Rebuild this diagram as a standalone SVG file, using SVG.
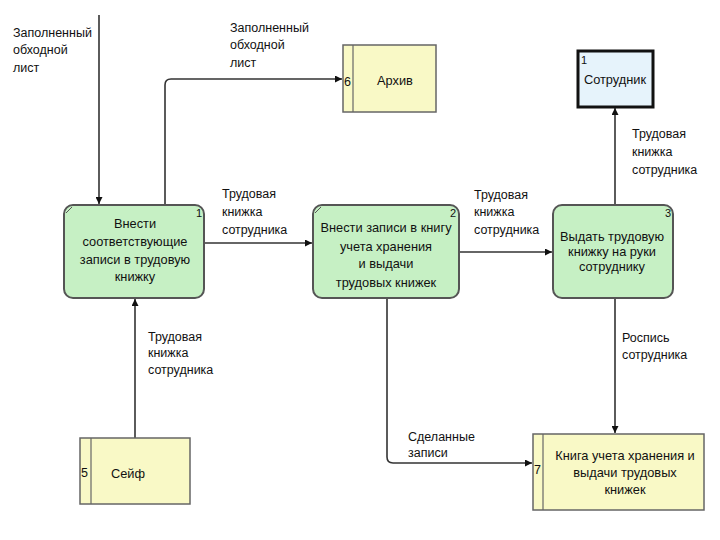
<svg xmlns="http://www.w3.org/2000/svg" width="720" height="540" viewBox="0 0 720 540">
<defs>
<style>
text{font-family:"Liberation Sans",Arial,sans-serif;font-size:12.5px;fill:#111}
.c{text-anchor:middle;font-size:12.8px}
.proc{fill:#c6f0c4;stroke:#555;stroke-width:2}
.store{fill:#f9f9c6;stroke:#666;stroke-width:1.5}
.con{fill:none;stroke:#333;stroke-width:1.6}
.num{font-size:11px}
</style>
<marker id="ah" viewBox="0 0 10 10" refX="10" refY="5" markerWidth="7" markerHeight="7" markerUnits="userSpaceOnUse" orient="auto">
<path d="M0,0 L10,5 L0,10 z" fill="#111"/>
</marker>
</defs>
<rect width="720" height="540" fill="#fff"/>

<g id="connectors">
<path class="con" d="M99,15 V204" marker-end="url(#ah)"/>
<path class="con" d="M165,205 V85 Q165,79 171,79 H342" marker-end="url(#ah)"/>
<path class="con" d="M204,243 H312" marker-end="url(#ah)"/>
<path class="con" d="M459,252 H552" marker-end="url(#ah)"/>
<path class="con" d="M615,205 V108" marker-end="url(#ah)"/>
<path class="con" d="M615,298 V433" marker-end="url(#ah)"/>
<path class="con" d="M387,298 V457 Q387,463 393,463 H532" marker-end="url(#ah)"/>
<path class="con" d="M135,438 V299" marker-end="url(#ah)"/>
<text x="13" y="37">Заполненный</text>
<text x="13" y="54">обходной</text>
<text x="13" y="72">лист</text>
<text x="230" y="32">Заполненный</text>
<text x="230" y="49">обходной</text>
<text x="230" y="67">лист</text>
<text x="222" y="198">Трудовая</text>
<text x="222" y="216">книжка</text>
<text x="222" y="234">сотрудника</text>
<text x="474" y="199">Трудовая</text>
<text x="474" y="216">книжка</text>
<text x="474" y="234">сотрудника</text>
<text x="632" y="138">Трудовая</text>
<text x="632" y="156">книжка</text>
<text x="632" y="174">сотрудника</text>
<text x="622" y="342">Роспись</text>
<text x="622" y="359">сотрудника</text>
<text x="408" y="441">Сделанные</text>
<text x="408" y="457">записи</text>
<text x="148" y="341">Трудовая</text>
<text x="148" y="357">книжка</text>
<text x="148" y="374">сотрудника</text>
</g>

<g id="node1">
<rect class="proc" x="64" y="205" width="140" height="93" rx="9"/>
<line x1="66" y1="213" x2="72" y2="207" stroke="#555" stroke-width="1"/>
<text class="num" x="196" y="217">1</text>
<text class="c" x="135" y="228">Внести</text>
<text class="c" x="135" y="246">соответствующие</text>
<text class="c" x="135" y="264">записи в трудовую</text>
<text class="c" x="135" y="281">книжку</text>
</g>

<g id="node2">
<rect class="proc" x="313" y="205" width="146" height="93" rx="9"/>
<line x1="315" y1="213" x2="321" y2="207" stroke="#555" stroke-width="1"/>
<text class="num" x="450" y="217">2</text>
<text class="c" x="386" y="232">Внести записи в книгу</text>
<text class="c" x="386" y="251">учета хранения</text>
<text class="c" x="386" y="268">и выдачи</text>
<text class="c" x="386" y="287">трудовых книжек</text>
</g>

<g id="node3">
<rect class="proc" x="553" y="205" width="120" height="93" rx="9"/>
<text class="num" x="665" y="217">3</text>
<text class="c" x="612" y="241">Выдать трудовую</text>
<text class="c" x="612" y="256">книжку на руки</text>
<text class="c" x="612" y="271">сотруднику</text>
</g>

<g id="archive">
<rect class="store" x="343" y="45" width="93" height="67"/>
<line x1="353" y1="45" x2="353" y2="112" stroke="#666" stroke-width="1.2"/>
<text x="344" y="86">6</text>
<text class="c" x="395" y="85">Архив</text>
</g>

<g id="employee">
<rect x="578" y="51" width="75" height="56" fill="#e6f3fb" stroke="#111" stroke-width="3"/>
<text class="num" x="581" y="64">1</text>
<text class="c" x="615" y="84">Сотрудник</text>
</g>

<g id="safe">
<rect class="store" x="80" y="438" width="110" height="66"/>
<line x1="91" y1="438" x2="91" y2="504" stroke="#666" stroke-width="1.2"/>
<text x="81" y="477">5</text>
<text class="c" x="128" y="478">Сейф</text>
</g>

<g id="book">
<rect class="store" x="533" y="434" width="171" height="76"/>
<line x1="543" y1="434" x2="543" y2="510" stroke="#666" stroke-width="1.2"/>
<text x="534" y="474">7</text>
<text class="c" x="625" y="460">Книга учета хранения и</text>
<text class="c" x="625" y="477">выдачи трудовых</text>
<text class="c" x="625" y="494">книжек</text>
</g>
</svg>
